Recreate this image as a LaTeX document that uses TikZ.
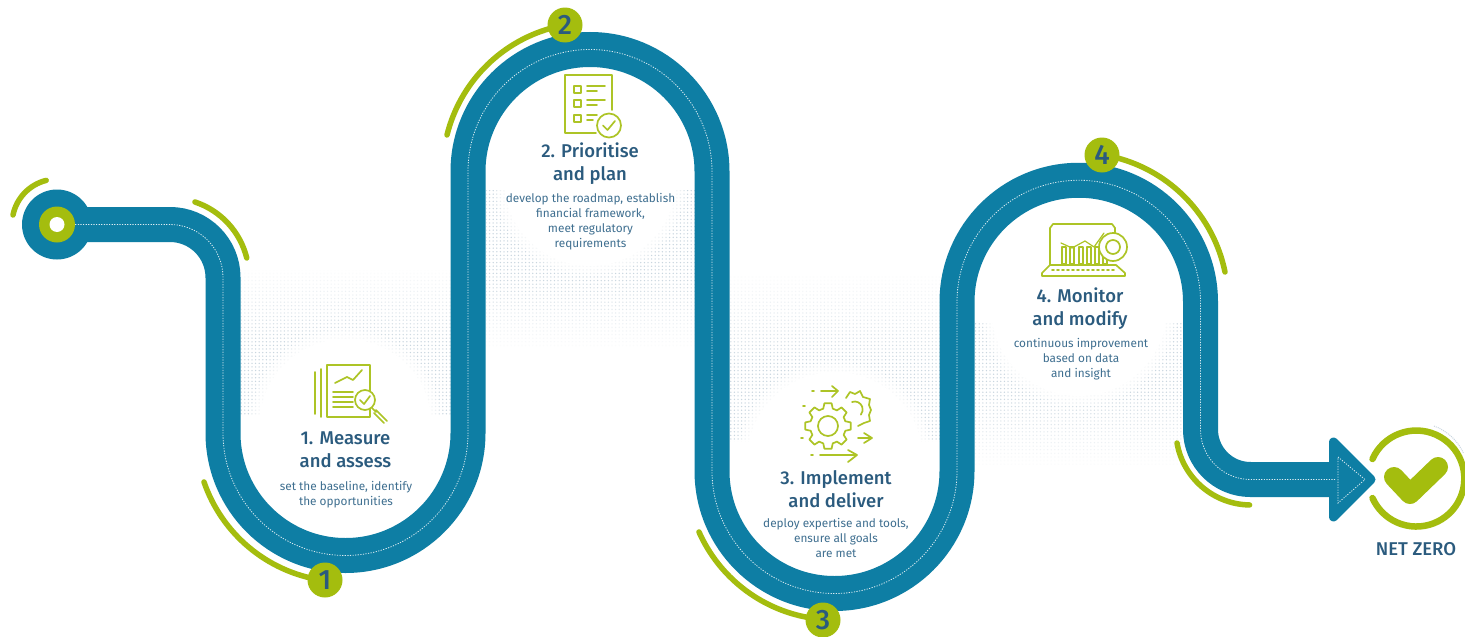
\documentclass[tikz,border=0pt]{standalone}
\usepackage{fontspec}
\setmainfont{Fira Sans}
\newfontfamily\medfont{Fira Sans Medium}
\usetikzlibrary{patterns.meta,fadings,arrows.meta}
\definecolor{road}{HTML}{0E7EA4}
\definecolor{lime}{HTML}{A4BD0E}
\definecolor{titleblue}{HTML}{2B5B7E}
\definecolor{bodyblue}{HTML}{3F6F90}
\definecolor{dotgrey}{HTML}{C9D6DF}
\tikzset{
  limearc/.style={draw=lime,line width=5.5pt,line cap=round},
  badge/.style={circle,fill=lime,minimum size=35pt,inner sep=0pt,text=titleblue,font=\medfont\fontsize{28}{28}\selectfont},
  icon/.style={draw=lime!90!white,line width=1.7pt,line cap=round,line join=round},
  steptitle/.style={align=center,text=titleblue,font=\medfont\fontsize{18.5}{23}\selectfont},
  stepbody/.style={align=center,text=bodyblue,font=\fontsize{11.8}{15}\selectfont},
  dotfield/.style={pattern={Dots[distance=3.6pt,radius=.75pt]},pattern color=dotgrey},
  centre/.style={draw=white,line width=.8pt,dash pattern=on 1.2pt off 1.4pt,opacity=.85}
}
\newcommand{\softdisc}[3]{%
  \foreach \rr in {0,2,4,6,8,10}{\fill[white,opacity=.3] (#1,#2) circle[radius=#3pt+6pt-\rr pt];}%
  \fill[white] (#1,#2) circle[radius=#3pt-4pt];}
\newcommand{\gearpath}[5]{% cx cy outer inner teeth
  \foreach \k in {1,...,#5}{%
    \pgfmathsetmacro{\st}{360/#5}%
    \pgfmathsetmacro{\aa}{\k*\st-.34*\st}\pgfmathsetmacro{\ab}{\k*\st-.2*\st}%
    \pgfmathsetmacro{\ac}{\k*\st+.2*\st}\pgfmathsetmacro{\ad}{\k*\st+.34*\st}\pgfmathsetmacro{\ae}{\k*\st+.66*\st}%
    \draw[icon] ([shift={(\aa:#4pt)}]#1,#2) -- ([shift={(\ab:#3pt)}]#1,#2) -- ([shift={(\ac:#3pt)}]#1,#2) -- ([shift={(\ad:#4pt)}]#1,#2) -- ([shift={(\ae:#4pt)}]#1,#2);}}
\begin{document}
\begin{tikzpicture}[x=1pt,y=1pt,yscale=-1]
\useasboundingbox (0,0) rectangle (1465,637);
\fill[white] (0,0) rectangle (1465,637);

% dotted backgrounds
\fill[dotfield] (240,265) rectangle (452,418);
\fill[dotfield] (486,190) rectangle (696,352);
\fill[dotfield] (729,270) rectangle (941,445);
\fill[dotfield] (975,322) rectangle (1184,470);
\fill[white] (238,258) rectangle (454,267);
\fill[white] (484,350) rectangle (698,358);
\fill[white] (727,263) rectangle (943,272);
\fill[white] (973,468) rectangle (1186,476);
\foreach \i in {0,...,15}{
  \pgfmathsetmacro{\o}{1-\i/15}
  \fill[white,opacity=\o] (240,265+\i*5) rectangle (452,270+\i*5);
  \fill[white,opacity=\o] (486,352-\i*5) rectangle (696,347-\i*5);
  \fill[white,opacity=\o] (729,270+\i*6) rectangle (941,276+\i*6);
  \fill[white,opacity=\o] (975,470-\i*5) rectangle (1184,465-\i*5);
}
\softdisc{345.5}{425}{90}
\softdisc{590}{180}{90}
\softdisc{835}{460}{92}
\softdisc{1079}{308}{92}
\fill[white] (240,415) rectangle (452,440);
\fill[white] (729,442) rectangle (941,470);

% road
\coordinate (start) at (57,224.5);
\coordinate (shaft) at (1335,479.5);
\def\roadpath{(start) -- (170,224.5) arc[start angle=-90,end angle=0,radius=53pt] -- (223,433)
  arc[start angle=180,end angle=0,radius=122.5pt] -- (468,171.5)
  arc[start angle=180,end angle=360,radius=122pt] -- (712,471)
  arc[start angle=180,end angle=0,radius=122.5pt] -- (957,302)
  arc[start angle=180,end angle=360,radius=121.75pt] -- (1200.5,429.5)
  arc[start angle=180,end angle=90,radius=50pt] -- (shaft)}
\draw[road,line width=35pt] \roadpath;
\fill[road] (start) circle[radius=35pt];
\fill[road,draw=road,line width=9pt,line join=round] (1333.5,442) -- (1371,479.5) -- (1333.5,517) -- cycle;
\draw[centre] \roadpath;
\draw[centre] (1338,457) -- (1365,479.5) -- (1338,503) -- cycle;
\fill[lime] (start) circle[radius=18pt];
\fill[white] (start) circle[radius=7.5pt];

% lime arcs
\draw[limearc] (13,215) arc[start angle=191.6,end angle=256,radius=45pt];
\draw[limearc] (195,202) arc[start angle=-71.6,end angle=-13.9,radius=79pt];
\coordinate (b1) at (325,580);
\coordinate (b2) at (565,25);
\coordinate (b3) at (823,620);
\coordinate (b4) at (1102,155);
\draw[limearc] (204,482) arc[start angle=161,end angle=99,radius=148pt];
\draw[limearc] (447,135) arc[start angle=194,end angle=254,radius=148pt];
\draw[limearc] (699,532) arc[start angle=156,end angle=100,radius=148pt];
\draw[limearc] (1225,272) arc[start angle=-11.6,end angle=-76,radius=149pt];
\draw[limearc] (1177,443) arc[start angle=170,end angle=91,radius=75pt];
\node[badge] (n1) at (b1) {1};
\node[badge] (n2) at (b2) {2};
\node[badge] (n3) at (b3) {3};
\node[badge] (n4) at (b4) {4};

% net zero
\draw[limearc,line width=6.5pt] (1372.5,459) arc[start angle=-156,end angle=156,radius=48pt];
\draw[draw=lime,line width=20pt,line cap=round,line join=round] (1394,477) -- (1410,494) -- (1438,467);
\draw[dotgrey,line width=1pt,dash pattern=on 1pt off 1pt] (1434,426) arc[start angle=-70,end angle=-25,radius=52pt];
\node[text=titleblue,font=\medfont\fontsize{18.5}{18.5}\selectfont] (nz) at (1416,549) {NET ZERO};

% step 1 text and icon
\node[steptitle] (t1) at (345.5,450) {1. Measure\\and assess};
\node[stepbody] (d1) at (346,495) {set the baseline, identify\\the opportunities};
\draw[icon] (315,372) -- (315,414) (321,369) -- (321,417);
\draw[icon] (327,365) rectangle (370,417);
\draw[icon] (335,383) -- (347,377) -- (353,380) -- (362,370);
\draw[icon] (333,392) -- (353,392) (333,397) -- (353,397) (333,402) -- (353,402) (333,407) -- (353,407);
\draw[icon,fill=white] (365,400) circle[radius=10pt];
\draw[icon] (372,408) -- (376,412) (376,410) -- (387,421) (374,413) -- (384,423);
\draw[icon] (360,400) -- (364,404) -- (370,396);

% step 2
\node[steptitle] (t2) at (590,163.5) {2. Prioritise\\and plan};
\node[stepbody] (d2) at (590.5,221.5) {develop the roadmap, establish\\financial framework,\\meet regulatory\\requirements};
\draw[icon] (612,110) -- (612,75) -- (565,75) -- (565,133) -- (596,133);
\draw[icon] (574,86) rectangle (581,93) (574,100) rectangle (581,107) (574,115) rectangle (581,122);
\draw[icon] (587,86) -- (605,86) (587,91) -- (597,91) (587,100) -- (605,100) (587,105) -- (597,105) (587,115) -- (597,115) (587,120) -- (593,120);
\draw[icon,fill=white] (609,125.5) circle[radius=12pt];
\draw[icon] (603,125.5) -- (607.5,130) -- (615,121);

% step 3
\node[steptitle] (t3) at (836,489.5) {3. Implement\\and deliver};
\node[stepbody] (d3) at (836,538) {deploy expertise and tools,\\ensure all goals\\are met};
\gearpath{828}{426}{23}{18}{8}
\draw[icon] (828,426) circle[radius=10pt];
\draw[icon] (846,398) -- (850,392) -- (855,394) -- (860,391) -- (863,397) -- (870,399) -- (869,405) -- (871,410) -- (869,415) -- (870,421) -- (864,423) -- (858,426);
\draw[icon] (852,402) arc[start angle=-110,end angle=40,radius=8pt];
\draw[icon] (812,391) -- (814,391) (821,391) -- (838,391) (832,386) -- (838,391) -- (832,397);
\draw[icon] (803,406) -- (805,406) (801,438) -- (803,438) (811,455) -- (813,455) (820,455) -- (856,455) (848,450) -- (857,455) -- (848,462);
\draw[icon] (858,438) -- (871,438) (864,433) -- (872,438) -- (864,443);

% step 4
\node[steptitle] (t4) at (1080,309) {4. Monitor\\and modify};
\node[stepbody] (d4) at (1081,359) {continuous improvement\\based on data\\and insight};
\draw[icon] (1050,265) -- (1050,228) -- (1053,224) -- (1112,224) -- (1115,228) -- (1115,236);
\draw[icon] (1050,265) -- (1042,273) -- (1042,276) -- (1125,276) -- (1125,273) -- (1116,265) -- cycle;
\foreach \x in {1062,1070,1079,1087,1095,1103}{\draw[icon,line width=1.2pt] (\x,247) rectangle (\x+4,264);}
\draw[icon,line width=1.2pt] (1061,243) -- (1072,248) -- (1085,241) -- (1094,247) -- (1104,233);
\draw[icon,fill=white] (1113,247) circle[radius=14pt];
\draw[icon] (1113,247) circle[radius=7pt];
\draw[icon,dash pattern=on 2pt off 3pt] (1052,270) -- (1114,270);
\end{tikzpicture}
\end{document}
